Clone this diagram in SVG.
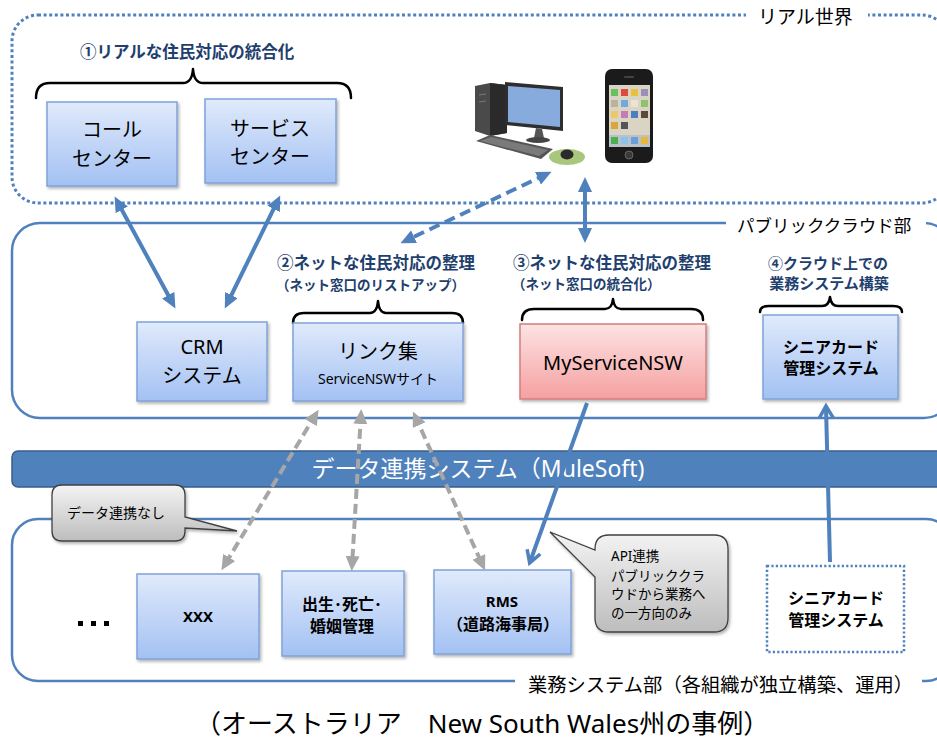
<svg xmlns="http://www.w3.org/2000/svg" width="937" height="740" viewBox="0 0 937 740">
  <defs>
    <linearGradient id="gBlue" x1="0" y1="0" x2="0" y2="1">
      <stop offset="0" stop-color="#E0EAFB"/>
      <stop offset="1" stop-color="#A3C1F3"/>
    </linearGradient>
    <linearGradient id="gPink" x1="0" y1="0" x2="0" y2="1">
      <stop offset="0" stop-color="#FDE3E3"/>
      <stop offset="1" stop-color="#F5A0A0"/>
    </linearGradient>
    <linearGradient id="gGray" x1="0" y1="0" x2="0" y2="1">
      <stop offset="0" stop-color="#F4F4F4"/>
      <stop offset="1" stop-color="#BDBDBD"/>
    </linearGradient>
    <filter id="shadow" x="-10%" y="-10%" width="130%" height="130%">
      <feDropShadow dx="1.5" dy="2" stdDeviation="1.5" flood-color="#000" flood-opacity="0.3"/>
    </filter>
    <marker id="headBlue" markerUnits="userSpaceOnUse" markerWidth="16" markerHeight="14" refX="10" refY="7" orient="auto-start-reverse">
      <path d="M0,0 L15,7 L0,14 z" fill="#4F81BD"/>
    </marker>
    <marker id="headGray" markerUnits="userSpaceOnUse" markerWidth="16" markerHeight="14" refX="10" refY="7" orient="auto-start-reverse">
      <path d="M0,0 L15,7 L0,14 z" fill="#A6A6A6"/>
    </marker>
    <marker id="openBlue" markerUnits="userSpaceOnUse" markerWidth="18" markerHeight="18" refX="13" refY="9" orient="auto">
      <path d="M2,2 L14,9 L2,16" fill="none" stroke="#4F81BD" stroke-width="3.5" stroke-linejoin="miter"/>
    </marker>
  </defs>
  <style>
    text { font-family: "Noto Sans", "Noto Sans CJK JP", sans-serif; }
    .box { fill: url(#gBlue); stroke: #7FA3D9; stroke-width: 1.5; filter: url(#shadow); }
    .pink { fill: url(#gPink); stroke: #D47F7F; stroke-width: 1.5; filter: url(#shadow); }
    .zone { fill: none; stroke: #4F81BD; stroke-width: 2.5; }
    .dotted { fill: none; stroke: #4F81BD; stroke-width: 3; stroke-dasharray: 3 2.6; }
    .brace { fill: none; stroke: #000; stroke-width: 2.5; stroke-linecap: round; stroke-linejoin: round; }
    .lbl { font-size: 20px; fill: #000; text-anchor: middle; }
    .blbl { font-size: 16px; font-weight: bold; fill: #000; text-anchor: middle; }
    .title { font-weight: bold; fill: #1F3F6E; }
    .zoneLbl { font-size: 18px; fill: #000; }
    .callout { fill: url(#gGray); stroke: #404040; stroke-width: 1.3; filter: url(#shadow); }
    .solid { fill: none; stroke: #4F81BD; stroke-width: 4; }
    .gray { fill: none; stroke: #A6A6A6; stroke-width: 4; stroke-dasharray: 10 5; }
  </style>
  <rect width="937" height="740" fill="#FFFFFF"/>

  <!-- zones -->
  <g id="zone-real">
    <rect x="12" y="15" width="936" height="188" rx="26" class="dotted"/>
    <rect x="746" y="6" width="122" height="20" fill="#FFFFFF"/>
    <text x="758" y="24" class="zoneLbl" style="font-size:19px">リアル世界</text>
  </g>
  <g id="zone-cloud">
    <rect x="12" y="223" width="940" height="195" rx="28" class="zone"/>
    <rect x="726" y="212" width="200" height="22" fill="#FFFFFF"/>
    <text x="737" y="232" class="zoneLbl" style="font-size:17.5px">パブリッククラウド部</text>
  </g>
  <g id="zone-business">
    <rect x="12" y="519" width="940" height="162" rx="26" class="zone"/>
    <rect x="515" y="672" width="407" height="22" fill="#FFFFFF"/>
    <text x="528" y="692" class="zoneLbl" style="font-size:19.3px">業務システム部（各組織が独立構築、運用）</text>
  </g>

  <!-- integration bar -->
  <g id="bar-mulesoft">
    <rect x="12" y="451" width="940" height="36" rx="6" fill="#4F81BD" stroke="#385D8A" stroke-width="1.5"/>
    <text x="478" y="477" font-size="23" fill="#FFFFFF" text-anchor="middle">データ連携システム（MuleSoft)</text>
  </g>

  <!-- real world -->
  <g id="title-1">
    <text x="80" y="58" class="title" font-size="16.5">①リアルな住民対応の統合化</text>
    <path class="brace" d="M36,98 Q36,83 50,83 H183 Q192,83 193,69 Q194,83 203,83 H337 Q351,83 351,98"/>
  </g>
  <g id="call-center">
    <rect x="47" y="102" width="130" height="84" class="box"/>
    <text x="112" y="137" class="lbl">コール</text>
    <text x="112" y="166" class="lbl">センター</text>
  </g>
  <g id="service-center">
    <rect x="205" y="99" width="131" height="84" class="box"/>
    <text x="270" y="136" class="lbl">サービス</text>
    <text x="270" y="164" class="lbl">センター</text>
  </g>

  <!-- devices: desktop PC and smartphone -->
  <g id="devices">
    <polygon points="475,86 490,83 507,85 507,133 490,136 475,131" fill="#4A4A4A"/>
    <polygon points="490,83 507,85 507,133 490,136" fill="#2A2A2A"/>
    <line x1="479" y1="95" x2="486" y2="94" stroke="#777" stroke-width="1"/>
    <line x1="479" y1="102" x2="486" y2="101" stroke="#777" stroke-width="1"/>
    <polygon points="505,82 563,87 563,131 505,125" fill="#2E2E2E"/>
    <polygon points="508,86 560,90 560,127 508,122" fill="#88ABDD"/>
    <polygon points="536,128 542,129 544,138 534,138" fill="#555"/>
    <ellipse cx="538" cy="140" rx="12" ry="3" fill="#444"/>
    <polygon points="476,141 490,135 553,149 541,159" fill="#555"/>
    <polygon points="480,141 491,137 548,150 539,156" fill="#7A7A7A"/>
    <ellipse cx="567" cy="157" rx="18" ry="8" fill="#A8C77C"/>
    <ellipse cx="567" cy="154.5" rx="6.5" ry="5" fill="#2B2B2B"/>
    <rect x="605" y="69" width="48" height="94" rx="7" fill="#1B1B1B"/>
    <rect x="609" y="85" width="41" height="62" fill="#D9D4C4"/>
    <g>
      <rect x="611" y="89" width="7" height="7" fill="#6CBF5E"/>
      <rect x="621" y="89" width="7" height="7" fill="#E04A3A"/>
      <rect x="631" y="89" width="7" height="7" fill="#E8C23C"/>
      <rect x="641" y="89" width="7" height="7" fill="#9A8FB8"/>
      <rect x="611" y="100" width="7" height="7" fill="#B9B39C"/>
      <rect x="621" y="100" width="7" height="7" fill="#6FA9DE"/>
      <rect x="631" y="100" width="7" height="7" fill="#EAE4D0"/>
      <rect x="641" y="100" width="7" height="7" fill="#8EC36A"/>
      <rect x="611" y="111" width="7" height="7" fill="#E9C96A"/>
      <rect x="621" y="111" width="7" height="7" fill="#C77BB6"/>
      <rect x="631" y="111" width="7" height="7" fill="#4D7EBF"/>
      <rect x="641" y="111" width="7" height="7" fill="#5A4A3A"/>
      <rect x="611" y="122" width="7" height="7" fill="#D9A63C"/>
      <rect x="621" y="122" width="7" height="7" fill="#555"/>
      <rect x="609" y="135" width="41" height="12" fill="#B8C2C8"/>
      <rect x="611" y="137" width="7" height="7" fill="#4CB050"/>
      <rect x="621" y="137" width="7" height="7" fill="#8CC2EA"/>
      <rect x="631" y="137" width="7" height="7" fill="#6A9ED8"/>
      <rect x="641" y="137" width="7" height="7" fill="#E8B83C"/>
    </g>
    <circle cx="629" cy="155" r="4" fill="#3A3A3A" stroke="#666" stroke-width="1"/>
    <rect x="624" y="76" width="10" height="2" rx="1" fill="#444"/>
  </g>

  <!-- public cloud -->
  <g id="crm">
    <rect x="137" y="322" width="130" height="79" class="box"/>
    <text x="202" y="354" class="lbl">CRM</text>
    <text x="202" y="383" class="lbl">システム</text>
  </g>
  <g id="title-2">
    <text x="277" y="269" class="title" font-size="16.5">②ネットな住民対応の整理</text>
    <text x="276" y="290" class="title" font-size="13.5">（ネット窓口のリストアップ）</text>
    <path class="brace" d="M293,323 Q293,313 304,313 H370 Q377,313 378,301 Q379,313 386,313 H452 Q463,313 463,323"/>
  </g>
  <g id="link-collection">
    <rect x="293" y="323" width="170" height="78" class="box"/>
    <text x="378" y="359" class="lbl">リンク集</text>
    <text x="378" y="384" class="lbl" style="font-size:14px">ServiceNSWサイト</text>
  </g>
  <g id="title-3">
    <text x="513" y="269" class="title" font-size="16.5">③ネットな住民対応の整理</text>
    <text x="512" y="289" class="title" font-size="13.5">（ネット窓口の統合化）</text>
    <path class="brace" d="M522,320 Q522,309 534,309 H605 Q612,309 613,299 Q614,309 621,309 H691 Q703,309 703,320"/>
  </g>
  <g id="myservicensw">
    <rect x="520" y="324" width="186" height="75" class="pink"/>
    <text x="613" y="370" class="lbl">MyServiceNSW</text>
  </g>
  <g id="title-4">
    <text x="828" y="269" class="title" font-size="15" text-anchor="middle">④クラウド上での</text>
    <text x="829" y="289" class="title" font-size="15" text-anchor="middle">業務システム構築</text>
    <path class="brace" d="M760,312 Q760,306 769,306 H822 Q829,306 830,297 Q831,306 838,306 H893 Q902,306 902,312"/>
  </g>
  <g id="senior-card-cloud">
    <rect x="763" y="315" width="135" height="84" class="box"/>
    <text x="831" y="353" class="blbl">シニアカード</text>
    <text x="831" y="374" class="blbl">管理システム</text>
  </g>

  <!-- business systems -->
  <g id="dots">
    <rect x="78" y="621" width="5" height="5" fill="#000"/>
    <rect x="91" y="621" width="5" height="5" fill="#000"/>
    <rect x="104" y="621" width="5" height="5" fill="#000"/>
  </g>
  <g id="xxx">
    <rect x="137" y="574" width="122" height="85" class="box"/>
    <text x="198" y="622" class="blbl" style="font-size:15px">XXX</text>
  </g>
  <g id="birth-death-marriage">
    <rect x="282" y="571" width="122" height="85" class="box"/>
    <text x="342" y="610" class="blbl" style="font-size:16px">出生･死亡･</text>
    <text x="342" y="632" class="blbl" style="font-size:16px">婚姻管理</text>
  </g>
  <g id="rms">
    <rect x="434" y="570" width="137" height="84" class="box"/>
    <text x="502" y="607" class="blbl" style="font-size:15px">RMS</text>
    <text x="503" y="630" class="blbl">（道路海事局）</text>
  </g>
  <g id="senior-card-business">
    <rect x="767" y="566" width="137" height="86" fill="#FFFFFF" stroke="#4F81BD" stroke-width="2.5" stroke-dasharray="2.2 2.2"/>
    <text x="836" y="604" class="blbl">シニアカード</text>
    <text x="836" y="626" class="blbl">管理システム</text>
  </g>

  <!-- connectors -->
  <g id="connectors">
    <line x1="117" y1="201" x2="173" y2="304" class="solid" marker-start="url(#headBlue)" marker-end="url(#headBlue)"/>
    <line x1="278" y1="200" x2="227" y2="304" class="solid" marker-start="url(#headBlue)" marker-end="url(#headBlue)"/>
    <line x1="547" y1="174" x2="405" y2="241" class="solid" stroke-dasharray="11 6" marker-start="url(#headBlue)" marker-end="url(#headBlue)"/>
    <line x1="585" y1="182" x2="585" y2="238" class="solid" marker-start="url(#headBlue)" marker-end="url(#headBlue)"/>
    <line x1="587" y1="403" x2="530" y2="562" class="solid" stroke-width="3.5" marker-end="url(#openBlue)"/>
    <line x1="830" y1="562" x2="826" y2="407" class="solid" stroke-width="3.5" marker-end="url(#openBlue)"/>
    <line x1="316" y1="414" x2="224" y2="566" class="gray" marker-start="url(#headGray)" marker-end="url(#headGray)"/>
    <line x1="361" y1="414" x2="352" y2="566" class="gray" marker-start="url(#headGray)" marker-end="url(#headGray)"/>
    <line x1="415" y1="416" x2="483" y2="566" class="gray" marker-start="url(#headGray)" marker-end="url(#headGray)"/>
  </g>

  <!-- callouts -->
  <g id="callout-no-link">
    <path class="callout" d="M62,485 H175 Q185,485 185,495 V517 L237,531 L185,528 V531 Q185,541 175,541 H62 Q52,541 52,531 V495 Q52,485 62,485 Z"/>
    <text x="67" y="518" font-size="14" fill="#000">データ連携なし</text>
  </g>
  <g id="callout-api">
    <path class="callout" d="M609,535 H714 Q728,535 728,549 V618 Q728,632 714,632 H609 Q595,632 595,618 V577 L550,532 L595,550 V549 Q595,535 609,535 Z"/>
    <text x="611" y="561" font-size="13.5" fill="#000">API連携</text>
    <text x="611" y="581" font-size="13.5" fill="#000">パブリッククラ</text>
    <text x="611" y="599" font-size="13.5" fill="#000">ウドから業務へ</text>
    <text x="611" y="618" font-size="13.5" fill="#000">の一方向のみ</text>
  </g>

  <!-- caption -->
  <text x="195" y="733" font-size="26" fill="#000">（オーストラリア　New South Wales州の事例）</text>
</svg>
